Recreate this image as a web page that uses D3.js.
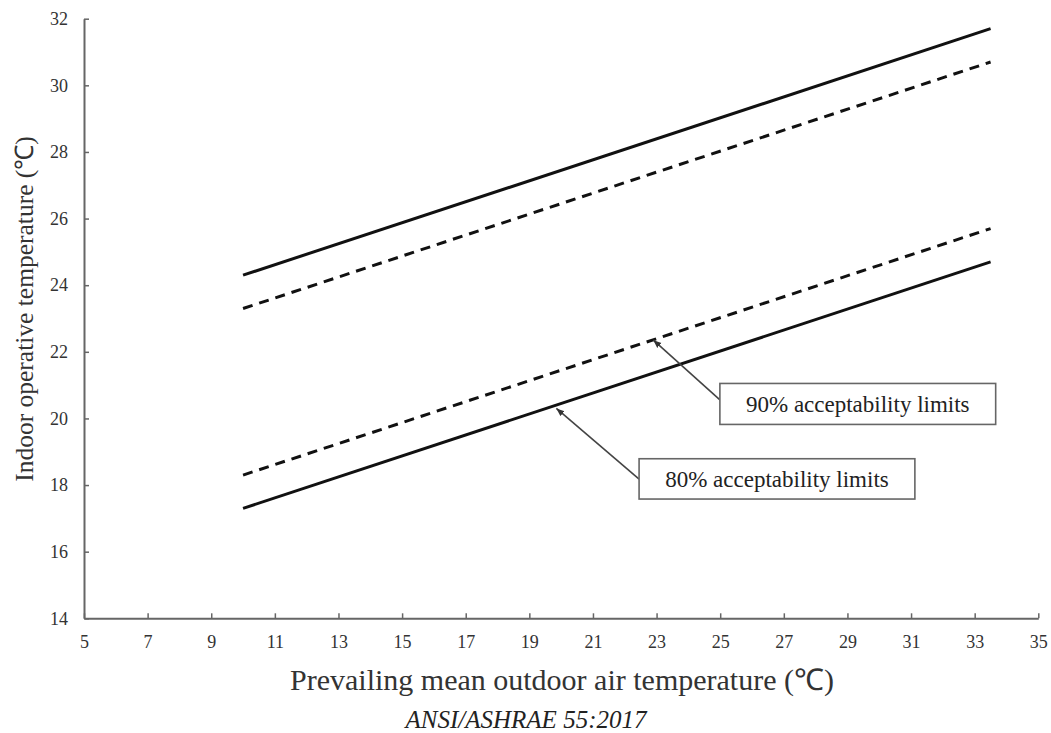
<!DOCTYPE html>
<html><head><meta charset="utf-8">
<script src="https://cdn.jsdelivr.net/npm/d3@7"></script>
<style>
html,body{margin:0;padding:0;background:#fff;}
svg{display:block;font-family:"Liberation Serif","Times New Roman",serif;}
svg text{font-family:"Liberation Serif","Times New Roman",serif;}
</style></head>
<body>
<svg id="chart" width="1051" height="733"></svg>
<script>
// ---- data ----
const xEnds = [10, 33.5];
const upper80 = [24.3, 31.7];
const upper90 = [23.3, 30.7];
const lower90 = [18.3, 25.7];
const lower80 = [17.3, 24.7];
const xTicks = [5,7,9,11,13,15,17,19,21,23,25,27,29,31,33,35];
const yTicks = [14,16,18,20,22,24,26,28,30,32];
const annotLabels = ["90% acceptability limits", "80% acceptability limits"];
const annotTips = [[22.9, 22.35], [19.85, 20.3]];

const svg = d3.select("#chart");
const m = {l:84, t:18.7, r:1051-1038.3, b:733-618.3};
const W = 1051 - m.l - m.r, H = 733 - m.t - m.b;
const x = d3.scaleLinear().domain([5,35]).range([m.l, m.l+W]);
const y = d3.scaleLinear().domain([14,32]).range([m.t+H, m.t]);

// axes
const axCol = "#666";
const gx = svg.append("g").attr("transform",`translate(0,${m.t+H})`)
  .call(d3.axisBottom(x).tickValues(xTicks).tickFormat(d3.format("d")).tickSizeInner(-5).tickSizeOuter(0).tickPadding(17));
const gy = svg.append("g").attr("transform",`translate(${m.l},0)`)
  .call(d3.axisLeft(y).tickValues(yTicks).tickFormat(d3.format("d")).tickSizeInner(-5).tickSizeOuter(0).tickPadding(16));
[gx,gy].forEach(g=>{
  g.attr("font-family","Liberation Serif, Times New Roman, serif").attr("font-size",18);
  g.select(".domain").attr("stroke",axCol).attr("stroke-width",2);
  g.selectAll(".tick line").attr("stroke",axCol).attr("stroke-width",1.5);
  g.selectAll(".tick text").attr("fill","#333");
});

// lines
const line = d3.line().x(d=>x(d[0])).y(d=>y(d[1]));
const series = [
  {v:upper80, dash:null},
  {v:upper90, dash:"10,7"},
  {v:lower90, dash:"10,7"},
  {v:lower80, dash:null}
];
series.forEach(s=>{
  svg.append("path").datum(xEnds.map((xv,i)=>[xv,s.v[i]]))
    .attr("d",line).attr("fill","none").attr("stroke","#111")
    .attr("stroke-width",3).attr("stroke-dasharray",s.dash);
});

// annotations (boxes in data space)
const boxes = [
  {x0:24.99, x1:33.66, y0:21.05, y1:19.82, from:[25.0,20.55]},
  {x0:22.45, x1:31.12, y0:18.79, y1:17.58, from:[22.45,18.18]}
];
svg.append("defs").append("marker").attr("id","ah").attr("viewBox","0 0 10 10")
  .attr("refX",10).attr("refY",5).attr("markerWidth",8).attr("markerHeight",8)
  .attr("orient","auto").attr("markerUnits","userSpaceOnUse")
  .append("path").attr("d","M0,1 L10,5 L0,9 Z").attr("fill","#333");
boxes.forEach((b,i)=>{
  svg.append("line").attr("x1",x(b.from[0])).attr("y1",y(b.from[1]))
    .attr("x2",x(annotTips[i][0])).attr("y2",y(annotTips[i][1]))
    .attr("stroke","#444").attr("stroke-width",1.6).attr("marker-end","url(#ah)");
  svg.append("rect").attr("x",x(b.x0)).attr("y",y(b.y0))
    .attr("width",x(b.x1)-x(b.x0)).attr("height",y(b.y1)-y(b.y0))
    .attr("fill","#fff").attr("stroke","#666").attr("stroke-width",1.6);
  svg.append("text").attr("x",(x(b.x0)+x(b.x1))/2).attr("y",(y(b.y0)+y(b.y1))/2)
    .attr("dy","0.35em").attr("text-anchor","middle").attr("font-size",23)
    .attr("fill","#222").text(annotLabels[i]);
});

// titles
svg.append("text").attr("x",562).attr("y",690).attr("text-anchor","middle")
  .attr("font-size",30).attr("fill","#333").text("Prevailing mean outdoor air temperature (\u2103)");
svg.append("text").attr("transform","translate(33,309) rotate(-90)").attr("text-anchor","middle")
  .attr("font-size",25.5).attr("fill","#333").text("Indoor operative temperature (\u2103)");
svg.append("text").attr("x",526).attr("y",728).attr("text-anchor","middle")
  .attr("font-size",25).attr("font-style","italic").attr("fill","#222").text("ANSI/ASHRAE 55:2017");
</script>
</body></html>
